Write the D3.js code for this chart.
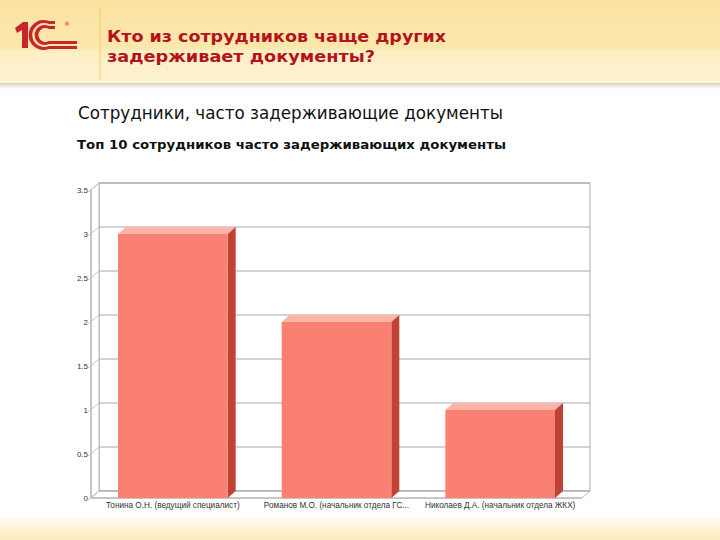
<!DOCTYPE html>
<html><head><meta charset="utf-8">
<script src="https://cdn.jsdelivr.net/npm/d3@7"></script>
<style>body{margin:0;background:#fff}svg{display:block}</style>
</head><body>
<script>
const headerLines = ["Кто из сотрудников чаще других", "задерживает документы?"];
const chartTitle = "Сотрудники, часто задерживающие документы";
const chartSubtitle = "Топ 10 сотрудников часто задерживающих документы";
const categories = ["Тонина О.Н. (ведущий специалист)", "Романов М.О. (начальник отдела ГС...", "Николаев Д.А. (начальник отдела ЖКХ)"];
const values = [3, 2, 1];
const yTicks = [0, 0.5, 1, 1.5, 2, 2.5, 3, 3.5];
const yTickLabels = ["0", "0.5", "1", "1.5", "2", "2.5", "3", "3.5"];

const W = 720, H = 540;
const FONT = "DejaVu Sans, Verdana, sans-serif";
const svg = d3.select("body").append("svg").attr("width", W).attr("height", H);
const defs = svg.append("defs");
const hg = defs.append("linearGradient").attr("id","hg").attr("x1",0).attr("y1",0).attr("x2",0).attr("y2",1);
[[0,"#FBE2A0"],[0.58,"#FCE7AE"],[0.62,"#FDEEC4"],[1,"#FDF2D2"]].forEach(s=>hg.append("stop").attr("offset",s[0]).attr("stop-color",s[1]));
const fg = defs.append("linearGradient").attr("id","fg").attr("x1",0).attr("y1",0).attr("x2",0).attr("y2",1);
[[0,"#FFFBEF"],[0.4,"#FEF4D8"],[1,"#FCEBBA"]].forEach(s=>fg.append("stop").attr("offset",s[0]).attr("stop-color",s[1]));
const sg = defs.append("linearGradient").attr("id","sg").attr("x1",0).attr("y1",0).attr("x2",0).attr("y2",1);
[[0,"#D9D3C2"],[1,"#FFFFFF"]].forEach(s=>sg.append("stop").attr("offset",s[0]).attr("stop-color",s[1]));

// header
svg.append("rect").attr("x",0).attr("y",0).attr("width",W).attr("height",83).attr("fill","url(#hg)");
svg.append("rect").attr("x",0).attr("y",83).attr("width",W).attr("height",6).attr("fill","url(#sg)");
svg.append("rect").attr("x",0).attr("y",518).attr("width",W).attr("height",22).attr("fill","url(#fg)");
svg.append("line").attr("x1",100).attr("x2",100).attr("y1",8).attr("y2",80).attr("stroke","#F2CF66").attr("stroke-width",1);

// logo 1C
const logo = svg.append("g").attr("fill","#C8262C");
logo.append("path").attr("d","M15,28 L23,22 L28,22 L28,48 L22,48 L22,30 L17,33 Z");
logo.append("path").attr("d","M49,24 A12,12 0 1 0 49,46 L77,46 L77,49 L49,49 A15,15 0 1 1 49,21 L55,21 L55,24 Z");
logo.append("path").attr("d","M49,29 A7,7 0 1 0 49,41 L77,41 L77,44 L49,44 A10,10 0 1 1 49,26 L55,26 L55,29 Z");
svg.append("text").attr("x",64).attr("y",26).attr("font-size",6).attr("fill","#C8262C").attr("font-family",FONT).text("®");

const headerWidths = [339, 268];
headerLines.forEach((t,i)=>svg.append("text").attr("x",107).attr("y",42+i*20)
  .attr("font-family",FONT).attr("font-size",16.5).attr("font-weight","bold")
  .attr("textLength",headerWidths[i]).attr("lengthAdjust","spacingAndGlyphs")
  .attr("fill","#B3141C").text(t));

svg.append("text").attr("x",78).attr("y",119).attr("font-family",FONT)
  .attr("font-size",17.5).attr("fill","#111").attr("textLength",425).attr("lengthAdjust","spacingAndGlyphs").text(chartTitle);
svg.append("text").attr("x",77).attr("y",149).attr("font-family",FONT)
  .attr("font-size",13).attr("font-weight","bold").attr("fill","#111").attr("textLength",429).attr("lengthAdjust","spacingAndGlyphs").text(chartSubtitle);

// chart geometry
const dx = 8, dy = -7;
const x0 = 91, x1 = 582;
const y = d3.scaleLinear().domain([0, 3.5]).range([498, 190]);
const x = d3.scaleBand().domain(categories).range([x0, x1]).paddingInner(0.33).paddingOuter(0.165);
const g = svg.append("g");

// back wall
g.append("rect").attr("x", x0+dx).attr("y", y(3.5)+dy).attr("width", x1-x0).attr("height", y(0)-y(3.5))
  .attr("fill","#fff").attr("stroke","#A8A8A8").attr("stroke-width",1);
// floor
g.append("path").attr("d", `M${x0},${y(0)} L${x1},${y(0)} L${x1+dx},${y(0)+dy} L${x0+dx},${y(0)+dy} Z`)
  .attr("fill","#fff").attr("stroke","#B8B8B8").attr("stroke-width",1);
// left wall
g.append("path").attr("d", `M${x0},${y(0)} L${x0},${y(3.5)} L${x0+dx},${y(3.5)+dy} L${x0+dx},${y(0)+dy} Z`)
  .attr("fill","#fff").attr("stroke","#B8B8B8").attr("stroke-width",1);
// grid lines
g.selectAll(".grid").data(yTicks).enter().append("line")
  .attr("x1", x0+dx).attr("x2", x1+dx).attr("y1", d=>y(d)+dy).attr("y2", d=>y(d)+dy)
  .attr("stroke","#A8A8A8").attr("stroke-width",1);
g.selectAll(".wtick").data(yTicks).enter().append("line")
  .attr("x1", x0-3).attr("x2", x0+dx).attr("y1", d=>y(d)+2).attr("y2", d=>y(d)+dy)
  .attr("stroke","#C8C8C8").attr("stroke-width",1);
// front axis line
g.append("line").attr("x1",x0).attr("x2",x0).attr("y1",y(0)).attr("y2",y(3.5)).attr("stroke","#B0B0B0");
g.append("line").attr("x1",x0).attr("x2",x1).attr("y1",y(0)).attr("y2",y(0)).attr("stroke","#B0B0B0");

// y labels
g.selectAll(".yl").data(yTicks).enter().append("text")
  .attr("x", x0-3).attr("y", d=>y(d)+3).attr("text-anchor","end")
  .attr("font-family","Liberation Sans, Arial, sans-serif").attr("font-size",8).attr("fill","#333")
  .text((d,i)=>yTickLabels[i]);

// bars
const bars = g.selectAll(".bar").data(values).enter().append("g");
bars.append("path").attr("d",(d,i)=>{const a=x(categories[i]), b=a+x.bandwidth(), t=y(d);
  return `M${a},${t} L${b},${t} L${b+dx},${t+dy} L${a+dx},${t+dy} Z`;}).attr("fill","#FCB4A8");
bars.append("path").attr("d",(d,i)=>{const b=x(categories[i])+x.bandwidth(), t=y(d), z=y(0);
  return `M${b},${t} L${b+dx},${t+dy} L${b+dx},${z+dy} L${b},${z} Z`;}).attr("fill","#BE4335");
bars.append("rect").attr("x",(d,i)=>x(categories[i])).attr("y",d=>y(d))
  .attr("width",x.bandwidth()).attr("height",d=>y(0)-y(d)).attr("fill","#FA8072");

// category labels
g.selectAll(".xl").data(categories).enter().append("text")
  .attr("x", d=>x(d)+x.bandwidth()/2).attr("y", 508).attr("text-anchor","middle")
  .attr("font-family","Liberation Sans, Arial, sans-serif").attr("font-size",8.2).attr("fill","#333")
  .text(d=>d);
</script>
</body></html>
